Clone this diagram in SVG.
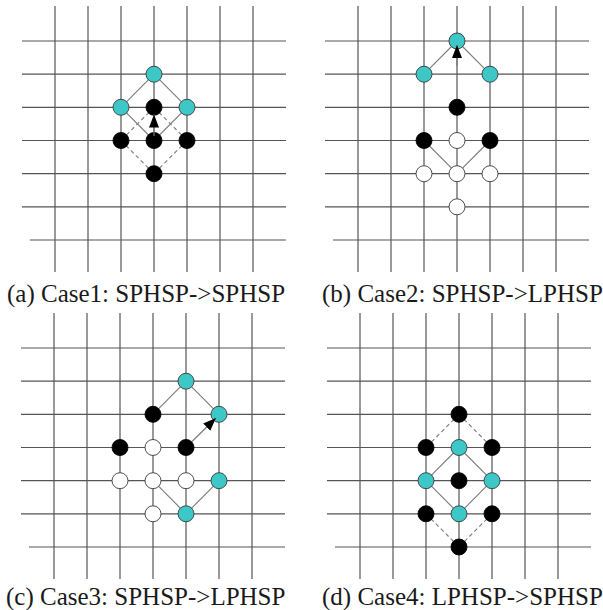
<svg xmlns="http://www.w3.org/2000/svg" width="603" height="610" viewBox="0 0 603 610">
<style>
.grid line{stroke:#555;stroke-width:1.2}
.con line{stroke:#7a7a7a;stroke-width:1.1;fill:none}
.con line.d{stroke-dasharray:4 3}
.arr line{stroke:#7a7a7a;stroke-width:1.2}
.c{fill:#3ec7c7;stroke:#3a3a3a;stroke-width:0.9}
.b{fill:#000;stroke:#000;stroke-width:0.9}
.w{fill:#fff;stroke:#3a3a3a;stroke-width:0.9}
.cap{font-family:"Liberation Serif","Times New Roman",serif;font-size:25px;fill:#1a1a1a}
</style>
<defs>
<marker id="ah" markerUnits="userSpaceOnUse" markerWidth="15" markerHeight="12" refX="13" refY="5" orient="auto">
<path d="M0,0 L13,5 L0,10 Z" fill="#000"/>
</marker>
<g id="gridT" class="grid">
<line x1="0" y1="-35" x2="0" y2="231"/><line x1="33" y1="-35" x2="33" y2="231"/><line x1="66" y1="-35" x2="66" y2="231"/><line x1="99" y1="-35" x2="99" y2="231"/><line x1="132" y1="-35" x2="132" y2="231"/><line x1="165" y1="-35" x2="165" y2="231"/><line x1="198" y1="-35" x2="198" y2="231"/>
<line x1="-33" y1="0" x2="231" y2="0"/><line x1="-33" y1="33.2" x2="231" y2="33.2"/><line x1="-33" y1="66.3" x2="231" y2="66.3"/><line x1="-33" y1="99.5" x2="231" y2="99.5"/><line x1="-33" y1="132.7" x2="231" y2="132.7"/><line x1="-33" y1="165.8" x2="231" y2="165.8"/><line x1="-25" y1="199" x2="231" y2="199"/>
</g>
</defs>
<rect width="603" height="610" fill="#fff"/>

<!-- Panel (a) -->
<g id="panel-a" transform="translate(55,41)">
<use href="#gridT"/>
<g id="a-connectors" class="con">
<line x1="99" y1="33.2" x2="66" y2="66.3"/><line x1="99" y1="33.2" x2="132" y2="66.3"/>
<line x1="66" y1="66.3" x2="99" y2="99.5"/><line x1="132" y1="66.3" x2="99" y2="99.5"/>
<line class="d" x1="99" y1="66.3" x2="66" y2="99.5"/><line class="d" x1="99" y1="66.3" x2="132" y2="99.5"/>
<line class="d" x1="66" y1="99.5" x2="99" y2="132.7"/><line class="d" x1="132" y1="99.5" x2="99" y2="132.7"/>
</g>
<g id="a-n1"><circle class="c" cx="99" cy="33.2" r="8"/></g>
<g id="a-n2"><circle class="c" cx="66" cy="66.3" r="8"/></g>
<g id="a-n3"><circle class="c" cx="132" cy="66.3" r="8"/></g>
<g id="a-n4"><circle class="b" cx="99" cy="66.3" r="8"/></g>
<g id="a-n5"><circle class="b" cx="66" cy="99.5" r="8"/></g>
<g id="a-n6"><circle class="b" cx="99" cy="99.5" r="8"/></g>
<g id="a-n7"><circle class="b" cx="132" cy="99.5" r="8"/></g>
<g id="a-n8"><circle class="b" cx="99" cy="132.7" r="8"/></g>
<g id="a-arrows" class="arr"><line x1="99" y1="95" x2="99" y2="73.5" marker-end="url(#ah)"/></g>
</g>
<text class="cap" x="7" y="302">(a) Case1: SPHSP-&gt;SPHSP</text>

<!-- Panel (b) -->
<g id="panel-b" transform="translate(358,41)">
<use href="#gridT"/>
<g id="b-connectors" class="con">
<line x1="99" y1="0" x2="66" y2="33.2"/><line x1="99" y1="0" x2="132" y2="33.2"/>
<line x1="66" y1="99.5" x2="99" y2="132.7"/><line x1="132" y1="99.5" x2="99" y2="132.7"/>
</g>
<g id="b-n1"><circle class="c" cx="99" cy="0" r="8"/></g>
<g id="b-n2"><circle class="c" cx="66" cy="33.2" r="8"/></g>
<g id="b-n3"><circle class="c" cx="132" cy="33.2" r="8"/></g>
<g id="b-n4"><circle class="b" cx="99" cy="66.3" r="8"/></g>
<g id="b-n5"><circle class="b" cx="66" cy="99.5" r="8"/></g>
<g id="b-n6"><circle class="w" cx="99" cy="99.5" r="8"/></g>
<g id="b-n7"><circle class="b" cx="132" cy="99.5" r="8"/></g>
<g id="b-n8"><circle class="w" cx="66" cy="132.7" r="8"/></g>
<g id="b-n9"><circle class="w" cx="99" cy="132.7" r="8"/></g>
<g id="b-n10"><circle class="w" cx="132" cy="132.7" r="8"/></g>
<g id="b-n11"><circle class="w" cx="99" cy="165.8" r="8"/></g>
<g id="b-arrows" class="arr"><line x1="99" y1="25" x2="99" y2="4" marker-end="url(#ah)"/></g>
</g>
<text class="cap" x="322" y="302">(b) Case2: SPHSP-&gt;LPHSP</text>

<!-- Panel (c) -->
<g id="panel-c" transform="translate(54,348)">
<use href="#gridT"/>
<g id="c-connectors" class="con">
<line x1="132" y1="33.2" x2="99" y2="66.3"/><line x1="132" y1="33.2" x2="165" y2="66.3"/>
<line x1="99" y1="132.7" x2="132" y2="165.8"/><line x1="132" y1="165.8" x2="165" y2="132.7"/>
</g>
<g id="c-n1"><circle class="c" cx="132" cy="33.2" r="8"/></g>
<g id="c-n2"><circle class="b" cx="99" cy="66.3" r="8"/></g>
<g id="c-n3"><circle class="c" cx="165" cy="66.3" r="8"/></g>
<g id="c-n4"><circle class="b" cx="66" cy="99.5" r="8"/></g>
<g id="c-n5"><circle class="w" cx="99" cy="99.5" r="8"/></g>
<g id="c-n6"><circle class="b" cx="132" cy="99.5" r="8"/></g>
<g id="c-n7"><circle class="w" cx="66" cy="132.7" r="8"/></g>
<g id="c-n8"><circle class="w" cx="99" cy="132.7" r="8"/></g>
<g id="c-n9"><circle class="w" cx="132" cy="132.7" r="8"/></g>
<g id="c-n10"><circle class="c" cx="165" cy="132.7" r="8"/></g>
<g id="c-n11"><circle class="w" cx="99" cy="165.8" r="8"/></g>
<g id="c-n12"><circle class="c" cx="132" cy="165.8" r="8"/></g>
<g id="c-arrows" class="arr"><line x1="138" y1="93.5" x2="162" y2="70" marker-end="url(#ah)"/></g>
</g>
<text class="cap" x="6" y="605">(c) Case3: SPHSP-&gt;LPHSP</text>

<!-- Panel (d) -->
<g id="panel-d" transform="translate(360,348)">
<use href="#gridT"/>
<g id="d-connectors" class="con">
<line x1="99" y1="99.5" x2="66" y2="132.7"/><line x1="99" y1="99.5" x2="132" y2="132.7"/>
<line x1="66" y1="132.7" x2="99" y2="165.8"/><line x1="132" y1="132.7" x2="99" y2="165.8"/>
<line class="d" x1="99" y1="66.3" x2="66" y2="99.5"/><line class="d" x1="99" y1="66.3" x2="132" y2="99.5"/>
<line class="d" x1="66" y1="165.8" x2="99" y2="199"/><line class="d" x1="132" y1="165.8" x2="99" y2="199"/>
</g>
<g id="d-n1"><circle class="b" cx="99" cy="66.3" r="8"/></g>
<g id="d-n2"><circle class="b" cx="66" cy="99.5" r="8"/></g>
<g id="d-n3"><circle class="c" cx="99" cy="99.5" r="8"/></g>
<g id="d-n4"><circle class="b" cx="132" cy="99.5" r="8"/></g>
<g id="d-n5"><circle class="c" cx="66" cy="132.7" r="8"/></g>
<g id="d-n6"><circle class="b" cx="99" cy="132.7" r="8"/></g>
<g id="d-n7"><circle class="c" cx="132" cy="132.7" r="8"/></g>
<g id="d-n8"><circle class="b" cx="66" cy="165.8" r="8"/></g>
<g id="d-n9"><circle class="c" cx="99" cy="165.8" r="8"/></g>
<g id="d-n10"><circle class="b" cx="132" cy="165.8" r="8"/></g>
<g id="d-n11"><circle class="b" cx="99" cy="199" r="8"/></g>
</g>
<text class="cap" x="322" y="605">(d) Case4: LPHSP-&gt;SPHSP</text>
</svg>
